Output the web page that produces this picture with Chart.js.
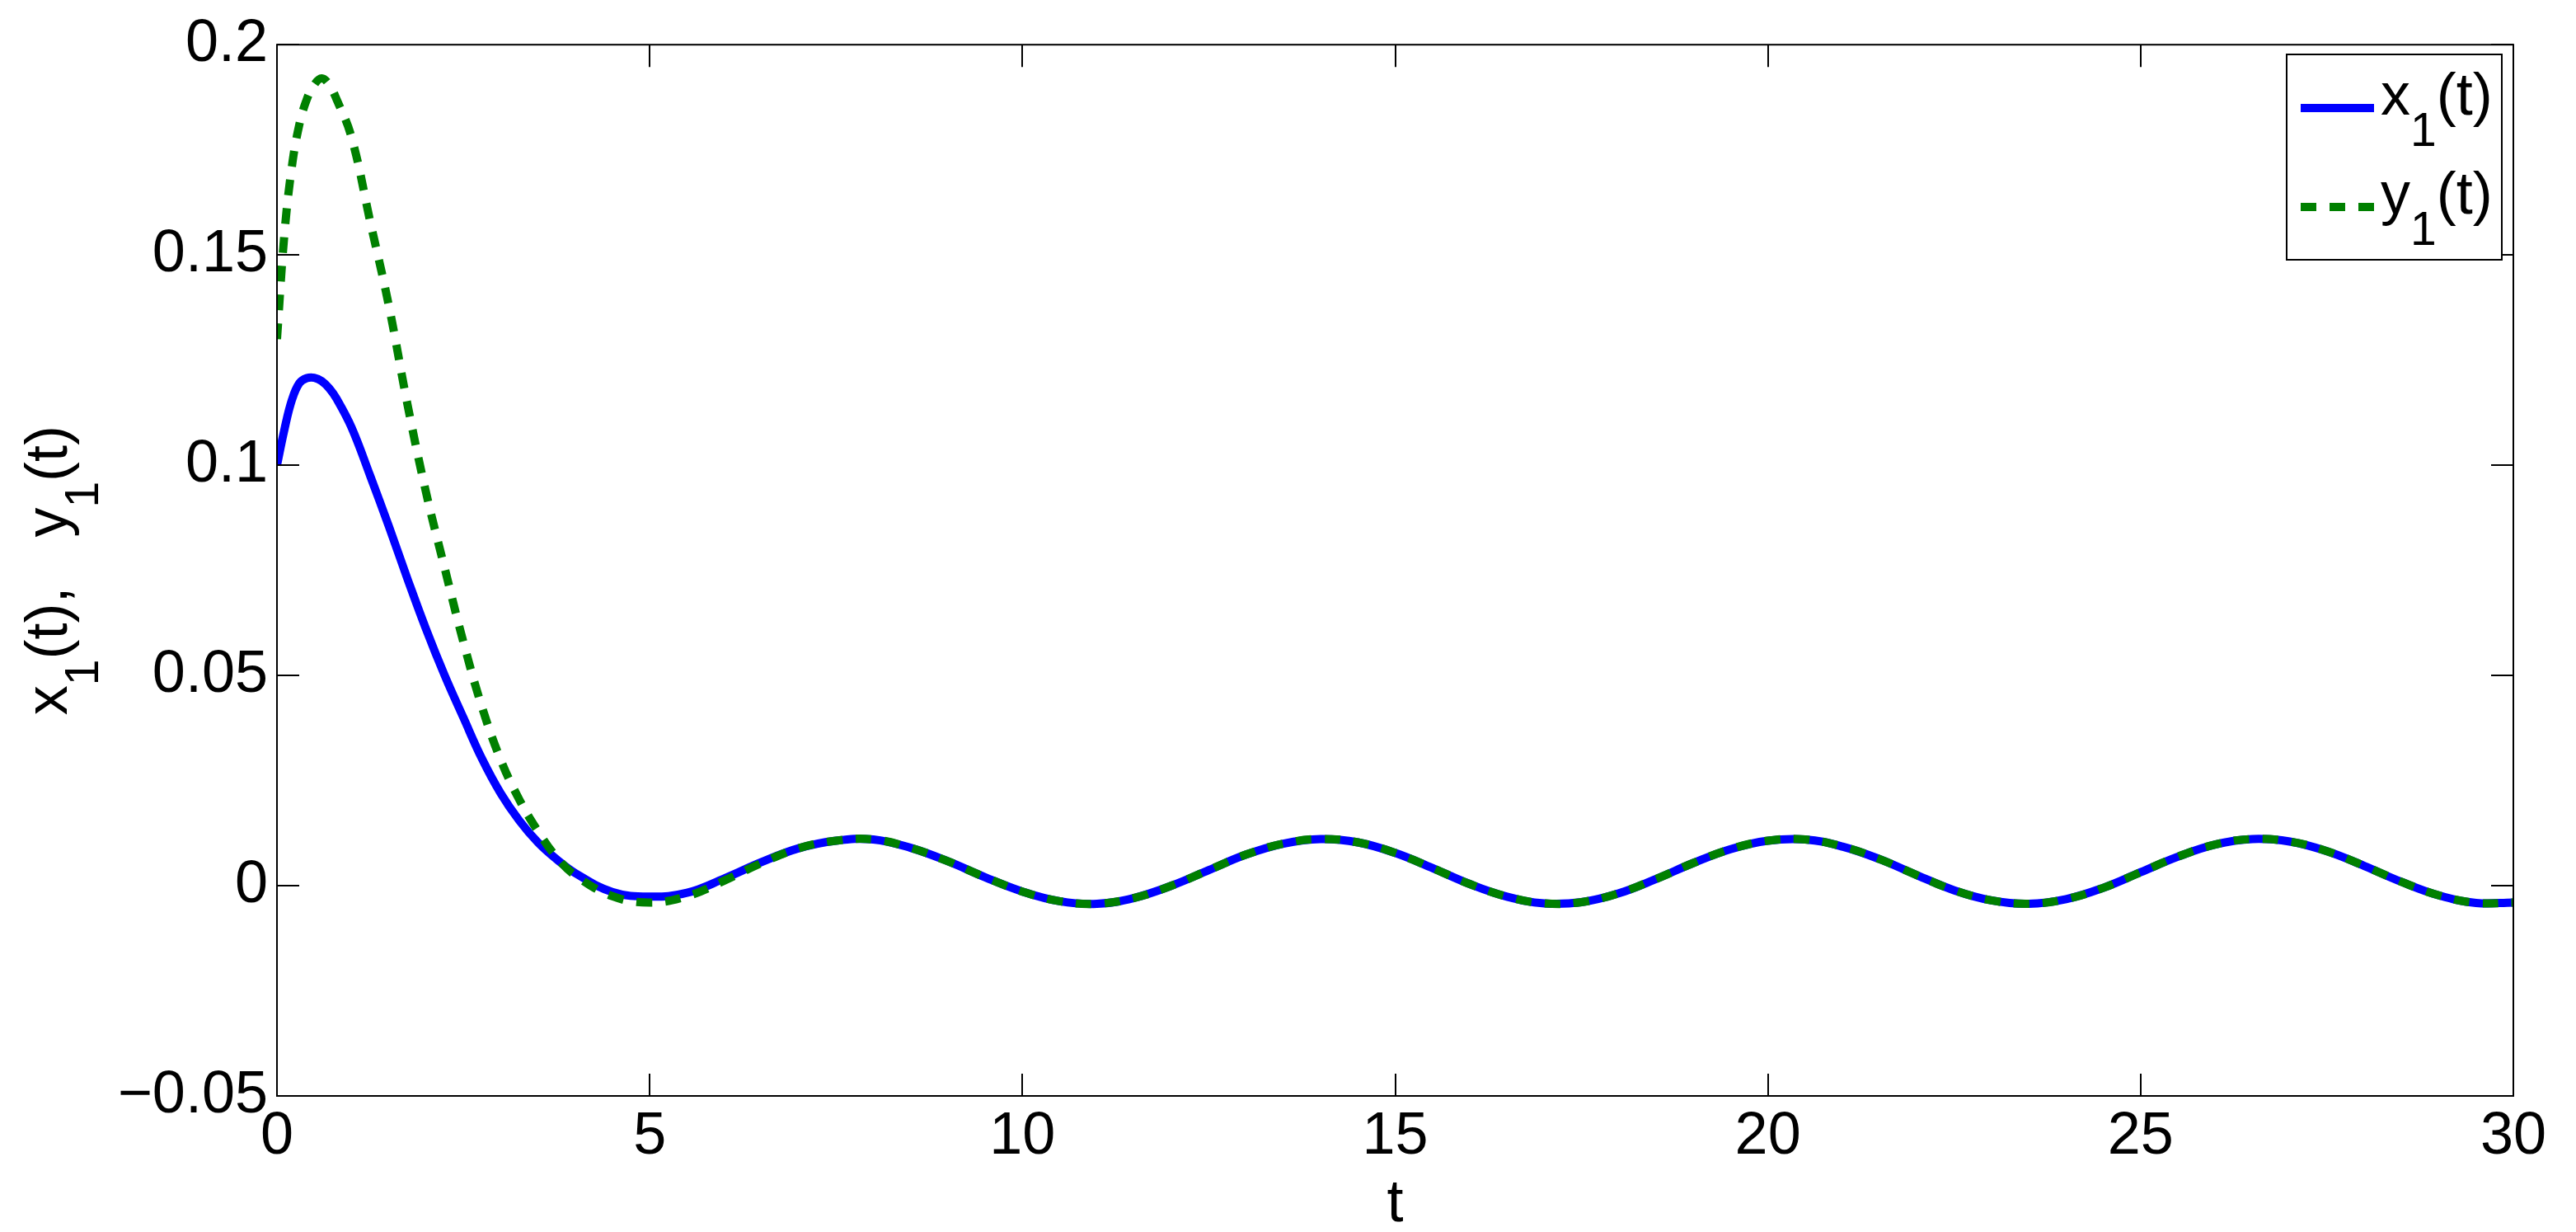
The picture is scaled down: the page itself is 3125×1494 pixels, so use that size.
<!DOCTYPE html>
<html>
<head>
<meta charset="utf-8">
<script src="https://cdn.jsdelivr.net/npm/chart.js@4.4.1/dist/chart.umd.min.js"></script>
<style>
  html, body { margin: 0; padding: 0; background: #ffffff; }
  #wrap { width: 3125px; height: 1494px; }
</style>
</head>
<body>
<div id="wrap"><canvas id="c" width="3125" height="1494"></canvas></div>
<script>
// ---- data ----
const tValues = [0, 0.1, 0.2, 0.3, 0.4, 0.5, 0.6, 0.7, 0.8, 1.0, 1.25, 1.5, 1.75, 2.0, 2.25, 2.5, 2.75, 3.0, 3.25, 3.5, 3.75, 4.0, 4.5, 5.0, 5.5, 6.0, 6.5, 7.0, 7.5, 8.0, 8.5, 9.0, 9.5, 10.0, 10.5, 11.0, 11.5, 12.0, 12.5, 13.0, 13.5, 14.0, 14.5, 15.0, 15.5, 16.0, 16.5, 17.0, 17.5, 18.0, 18.5, 19.0, 19.5, 20.0, 20.5, 21.0, 21.5, 22.0, 22.5, 23.0, 23.5, 24.0, 24.5, 25.0, 25.5, 26.0, 26.5, 27.0, 27.5, 28.0, 28.5, 29.0, 29.5, 30.0];
const x1Values = [0.100, 0.1085, 0.1155, 0.1195, 0.1207, 0.1208, 0.1200, 0.1183, 0.1158, 0.1090, 0.0975, 0.0855, 0.0730, 0.0610, 0.0500, 0.0400, 0.0302, 0.0220, 0.0155, 0.0103, 0.0063, 0.0030, -0.0015, -0.0026, -0.0017, 0.0017, 0.0056, 0.0089, 0.0107, 0.0110, 0.0090, 0.0058, 0.0020, -0.0014, -0.0037, -0.0043, -0.0029, 0.0000, 0.0037, 0.0074, 0.0100, 0.0111, 0.0103, 0.0078, 0.0042, 0.0004, -0.0026, -0.0042, -0.0039, -0.0018, 0.0016, 0.0054, 0.0087, 0.0107, 0.0110, 0.0093, 0.0063, 0.0025, -0.0011, -0.0035, -0.0043, -0.0032, -0.0005, 0.0032, 0.0069, 0.0098, 0.0111, 0.0105, 0.0082, 0.0047, 0.0009, -0.0023, -0.0041, -0.0040];
const y1Values = [0.130, 0.155, 0.171, 0.181, 0.187, 0.1905, 0.192, 0.1905, 0.187, 0.178, 0.158, 0.138, 0.1145, 0.0935, 0.0755, 0.058, 0.0425, 0.030, 0.0205, 0.0130, 0.0068, 0.0025, -0.0025, -0.0040, -0.0025, 0.0012, 0.0054, 0.0089, 0.0107, 0.0110, 0.0090, 0.0058, 0.0020, -0.0014, -0.0037, -0.0043, -0.0029, 0.0000, 0.0037, 0.0074, 0.0100, 0.0111, 0.0103, 0.0078, 0.0042, 0.0004, -0.0026, -0.0042, -0.0039, -0.0018, 0.0016, 0.0054, 0.0087, 0.0107, 0.0110, 0.0093, 0.0063, 0.0025, -0.0011, -0.0035, -0.0043, -0.0032, -0.0005, 0.0032, 0.0069, 0.0098, 0.0111, 0.0105, 0.0082, 0.0047, 0.0009, -0.0023, -0.0041, -0.0040];
const seriesLabels = ['x_1(t)', 'y_1(t)'];
const xTicks = [0, 5, 10, 15, 20, 25, 30];
const xTickLabels = ['0', '5', '10', '15', '20', '25', '30'];
const yTicks = [-0.05, 0, 0.05, 0.1, 0.15, 0.2];
const yTickLabels = ['\u22120.05', '0', '0.05', '0.1', '0.15', '0.2'];
const xTitle = 't';
const yTitle = 'x_1(t),   y_1(t)';

// ---- styling ----
const FONT = '"Liberation Sans", Arial, Helvetica, sans-serif';
const FS = 72;
const SUB_FS = 57;

function parseTex(s) {
  const parts = [];
  let i = 0, buf = '';
  while (i < s.length) {
    if (s[i] === '_' && i + 1 < s.length) {
      if (buf) { parts.push({ t: buf, sub: false }); buf = ''; }
      parts.push({ t: s[i + 1], sub: true });
      i += 2;
    } else { buf += s[i]; i++; }
  }
  if (buf) parts.push({ t: buf, sub: false });
  return parts;
}
function texWidth(ctx, s) {
  let w = 0;
  for (const p of parseTex(s)) {
    ctx.font = (p.sub ? SUB_FS : FS) + 'px ' + FONT;
    w += ctx.measureText(p.t).width;
  }
  return w;
}
function drawTex(ctx, s, x, y) {
  ctx.textAlign = 'left';
  ctx.textBaseline = 'alphabetic';
  for (const p of parseTex(s)) {
    ctx.font = (p.sub ? SUB_FS : FS) + 'px ' + FONT;
    ctx.fillText(p.t, x, p.sub ? y + 38 : y);
    x += ctx.measureText(p.t).width;
  }
}

const matlabAxes = {
  id: 'matlabAxes',
  afterDraw(chart) {
    const ctx = chart.ctx;
    const a = chart.chartArea;
    const xs = chart.scales.x, ys = chart.scales.y;
    const TL = 27;
    ctx.save();
    ctx.strokeStyle = '#000';
    ctx.lineWidth = 2;
    ctx.strokeRect(a.left, a.top, a.right - a.left, a.bottom - a.top);
    ctx.beginPath();
    for (const v of xTicks) {
      const px = Math.round(xs.getPixelForValue(v));
      ctx.moveTo(px, a.bottom); ctx.lineTo(px, a.bottom - TL);
      ctx.moveTo(px, a.top); ctx.lineTo(px, a.top + TL);
    }
    for (const v of yTicks) {
      const py = Math.round(ys.getPixelForValue(v));
      ctx.moveTo(a.left, py); ctx.lineTo(a.left + TL, py);
      ctx.moveTo(a.right, py); ctx.lineTo(a.right - TL, py);
    }
    ctx.stroke();

    // axis titles
    ctx.fillStyle = '#000';
    ctx.font = FS + 'px ' + FONT;
    ctx.textAlign = 'center';
    ctx.textBaseline = 'alphabetic';
    ctx.fillText(xTitle, (a.left + a.right) / 2, 1481);

    const yw = texWidth(ctx, yTitle);
    ctx.save();
    ctx.translate(81, (a.top + a.bottom) / 2);
    ctx.rotate(-Math.PI / 2);
    drawTex(ctx, yTitle, -yw / 2, 0);
    ctx.restore();

    // legend box
    const lx = 2774, ly = 66, lw = 261, lh = 249;
    ctx.fillStyle = '#fff';
    ctx.fillRect(lx, ly, lw, lh);
    ctx.lineWidth = 2;
    ctx.strokeStyle = '#000';
    ctx.strokeRect(lx, ly, lw, lh);
    chart.data.datasets.forEach((ds, i) => {
      const yLine = 131 + 120 * i;
      ctx.save();
      ctx.strokeStyle = ds.borderColor;
      ctx.lineWidth = ds.borderWidth;
      ctx.lineCap = 'butt';
      ctx.setLineDash(ds.borderDash || []);
      ctx.beginPath();
      ctx.moveTo(2791, yLine);
      ctx.lineTo(2880, yLine);
      ctx.stroke();
      ctx.restore();
      ctx.fillStyle = '#000';
      drawTex(ctx, ds.label, 2888, yLine + 8);
    });
    ctx.restore();
  }
};

const chart = new Chart(document.getElementById('c'), {
  type: 'line',
  data: {
    datasets: [
      {
        label: seriesLabels[0],
        data: tValues.map((t, i) => ({ x: t, y: x1Values[i] })),
        borderColor: '#0000ff',
        borderWidth: 10,
        pointRadius: 0,
        fill: false,
        tension: 0.4,
        order: 1
      },
      {
        label: seriesLabels[1],
        data: tValues.map((t, i) => ({ x: t, y: y1Values[i] })),
        borderColor: '#008000',
        borderWidth: 10,
        borderDash: [19, 16],
        borderCapStyle: 'butt',
        pointRadius: 0,
        fill: false,
        tension: 0.4,
        order: 0
      }
    ]
  },
  options: {
    responsive: false,
    animation: false,
    devicePixelRatio: 1,
    layout: { padding: { left: 0, right: 76, top: 52, bottom: 0 } },
    plugins: { legend: { display: false }, tooltip: { enabled: false }, title: { display: false } },
    scales: {
      x: {
        type: 'linear',
        min: 0, max: 30,
        afterBuildTicks: s => { s.ticks = xTicks.map(v => ({ value: v })); },
        afterFit: s => { s.height = 165; },
        grid: { display: false, drawTicks: false },
        border: { display: false },
        ticks: {
          padding: 7,
          maxRotation: 0,
          autoSkip: false,
          color: '#000',
          font: { family: FONT, size: FS },
          callback: (v) => xTickLabels[xTicks.indexOf(v)]
        }
      },
      y: {
        type: 'linear',
        min: -0.05, max: 0.2,
        afterBuildTicks: s => { s.ticks = yTicks.map(v => ({ value: v })); },
        afterFit: s => { s.width = 336; },
        grid: { display: false, drawTicks: false },
        border: { display: false },
        ticks: {
          padding: 11,
          autoSkip: false,
          color: '#000',
          font: { family: FONT, size: FS },
          callback: (v) => yTickLabels[yTicks.indexOf(v)]
        }
      }
    }
  },
  plugins: [matlabAxes]
});
</script>
</body>
</html>
